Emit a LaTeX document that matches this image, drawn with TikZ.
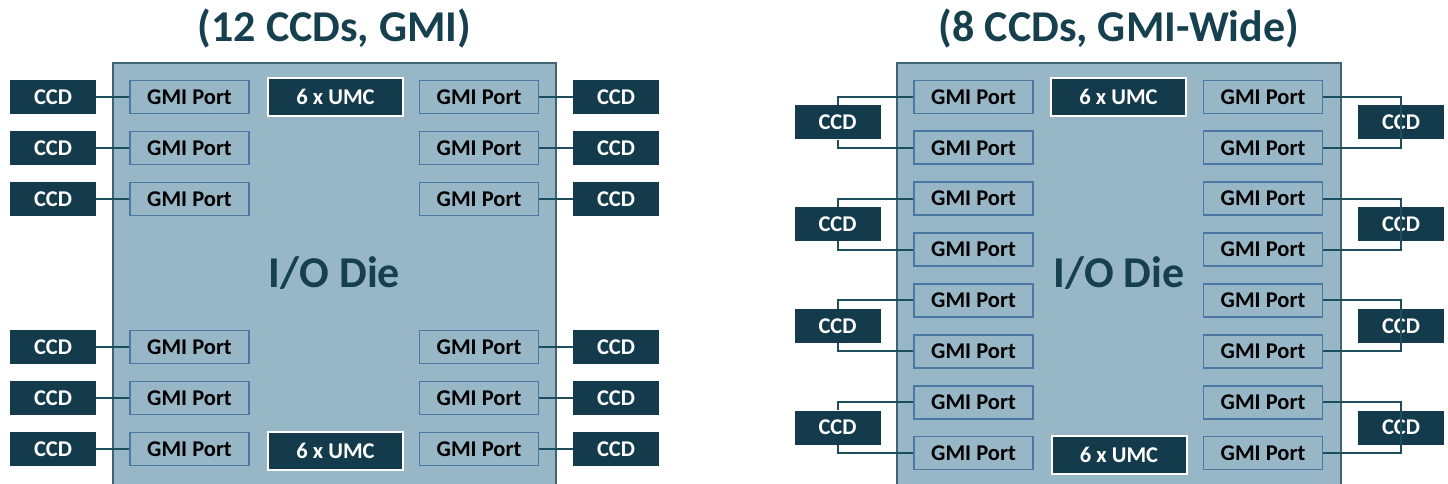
\documentclass[tikz,border=0pt]{standalone}
\usepackage{fontspec}
\setmainfont{Carlito}
\definecolor{diefill}{HTML}{97B7C7}
\definecolor{dieedge}{HTML}{3E6475}
\definecolor{portedge}{HTML}{4A77A3}
\definecolor{ccdfill}{HTML}{133B4B}
\definecolor{wirecol}{HTML}{1C4E5E}
\definecolor{titlecol}{HTML}{17404F}
\tikzset{
  boxfont/.style={font=\fontsize{22.5}{27}\selectfont\bfseries, text height=14.5pt, text depth=0pt},
  port/.style={boxfont, draw=portedge, line width=1.8pt, fill=diefill, minimum width=119pt, minimum height=33pt, inner sep=0pt},
  ccd/.style={boxfont, fill=ccdfill, text=white, minimum width=86pt, minimum height=34pt, inner sep=0pt},
  umc/.style={boxfont, fill=ccdfill, draw=white, line width=2pt, text=white, minimum width=135pt, minimum height=38pt, inner sep=0pt},
  wire/.style={draw=wirecol, line width=2pt},
  bigtext/.style={text=titlecol, font=\fontsize{44}{50}\selectfont\bfseries, inner sep=0pt},
}
\begin{document}
\begin{tikzpicture}[x=1pt, y=-1pt]
\useasboundingbox (0,0) rectangle (1448,484);
% ---------- left diagram ----------
\fill[diefill] (113,63) rectangle (556,486);
\draw[dieedge, line width=1.5pt] (113,490) -- (113,63) -- (556,63) -- (556,490);
\node[bigtext, anchor=base] (t1) at (334.5,42) {(12 CCDs, GMI)};
\node[bigtext, anchor=base] (d1) at (334.5,287) {I/O Die};
\node[umc] (Lu1) at (335.5,97) {6 x UMC};
\node[umc] (Lu2) at (335.5,451) {6 x UMC};
\foreach \i/\y in {1/97,2/148,3/199,4/347,5/398,6/449} {
  \node[port] (La\i) at (189.5,\y) {GMI Port};
  \node[port] (Lb\i) at (479,\y) {GMI Port};
  \node[ccd] (Lc\i) at (53,\y) {CCD};
  \node[ccd] (Ld\i) at (616,\y) {CCD};
  \draw[wire] (Lc\i) -- (La\i);
  \draw[wire] (Lb\i) -- (Ld\i);
}
% ---------- right diagram ----------
\fill[diefill] (897,63) rectangle (1341,486);
\draw[dieedge, line width=1.5pt] (897,490) -- (897,63) -- (1341,63) -- (1341,490);
\node[bigtext, anchor=base] (t2) at (1119,42) {(8 CCDs, GMI-Wide)};
\node[bigtext, anchor=base] (d2) at (1119,287) {I/O Die};
\node[umc] (Ru1) at (1118.5,97) {6 x UMC};
\node[umc] (Ru2) at (1119,455) {6 x UMC};
\foreach \i in {0,...,7} {
  \pgfmathsetmacro\y{97+50.85*\i}
  \node[port] (Ra\i) at (973.5,\y) {GMI Port};
  \node[port] (Rb\i) at (1263,\y) {GMI Port};
}
\foreach \k [evaluate=\k as \a using int(2*\k), evaluate=\k as \b using int(2*\k+1)] in {0,...,3} {
  \pgfmathsetmacro\y{122.4+101.7*\k}
  \node[ccd] (Rc\k) at (837.5,\y) {CCD};
  \node[ccd] (Rd\k) at (1401,\y) {CCD};
  \draw[wire] (Ra\a.west) -| (Rc\k.north);
  \draw[wire] (Ra\b.west) -| (Rc\k.south);
  \draw[wire] (Rb\a.east) -| (Rd\k.center) |- (Rb\b.east);
}
\end{tikzpicture}
\end{document}
